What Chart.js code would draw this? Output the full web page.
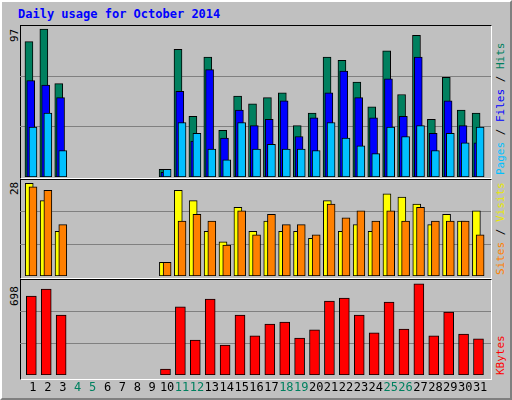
<!DOCTYPE html>
<html><head><meta charset="utf-8">
<script src="https://cdn.jsdelivr.net/npm/chart.js@4"></script>
<style>
body{margin:0;background:#fff}
#wrap{position:absolute;left:0;top:0;width:508px;height:396px;background:#C0C0C0;border-top:2px solid #fff;border-left:2px solid #fff;border-right:2px solid #808080;border-bottom:2px solid #808080;font-family:"DejaVu Sans Mono",monospace}
.pan{position:absolute;left:18px;width:470px;border-top:1px solid #000;border-left:1px solid #000;border-right:1px solid #fff;border-bottom:1px solid #fff}
canvas{position:absolute}
.t{position:absolute;font-size:11px;white-space:nowrap}
.r{transform:rotate(-90deg);transform-origin:left top}
</style></head><body>
<div id="wrap">
<div class="t" style="left:16px;top:5px;color:#0000FF;font-weight:bold;font-size:12px">Daily usage for October 2014</div>
<div class="pan" style="top:23px;height:152px"></div>
<div class="pan" style="top:177px;height:98px"></div>
<div class="pan" style="top:277px;height:99px"></div>
<div class="t r" style="left:6px;top:40px;color:#000">97</div>
<div class="t r" style="left:6px;top:193px;color:#000">28</div>
<div class="t r" style="left:6px;top:304px;color:#000">698</div>
<div class="t r" style="left:492px;top:173px"><span style="color:#00C0FF">Pages</span> / <span style="color:#0000FF">Files</span> / <span style="color:#00805F">Hits</span></div>
<div class="t r" style="left:492px;top:273px"><span style="color:#FF8000">Sites</span> / <span style="color:#E8E800">Visits</span></div>
<div class="t r" style="left:492px;top:373px;color:#FF0000">KBytes</div>
</div>
<canvas id="c1" width="471" height="151" style="left:20px;top:26px"></canvas>
<canvas id="c2" width="471" height="96" style="left:20px;top:180px"></canvas>
<canvas id="c3" width="471" height="118" style="left:20px;top:280px"></canvas>
<script>
const days=[1,2,3,4,5,6,7,8,9,10,11,12,13,14,15,16,17,18,19,20,21,22,23,24,25,26,27,28,29,30,31];
const weekend=[4,5,11,12,18,19,25,26];
const hits=[87,95,60,0,0,0,0,0,0,5,82,39,77,30,52,47,51,54,33,41,77,75,61,45,81,53,91,37,64,43,41];
const files=[62,59,51,0,0,0,0,0,0,3,55,23,69,25,43,33,37,49,26,38,54,68,51,38,63,39,77,28,49,33,22];
const pages=[32,41,17,0,0,0,0,0,0,5,35,28,18,11,35,18,21,18,18,17,35,25,20,15,32,26,33,17,28,22,32];
const visits=[27,22,13,0,0,0,0,0,0,4,25,22,13,10,20,13,16,13,13,11,22,13,15,13,24,23,21,15,18,16,19];
const sites=[26,25,15,0,0,0,0,0,0,4,16,18,16,9,19,12,18,15,15,12,21,17,19,16,19,16,20,16,16,16,12];
const kbytes=[580,632,441,0,0,0,0,0,0,44,500,257,558,220,441,287,375,389,272,331,544,566,441,309,536,338,669,287,463,301,265];
const maxHits=97, maxVisits=28, maxKB=698;

Chart.defaults.animation=false;
function ds(vals,off,color,w){return {data:days.map((d,i)=>({x:d+off,y:vals[i]})).filter(p=>p.y>0),backgroundColor:color,borderColor:'#000',borderWidth:1,borderSkipped:false,barThickness:w,grouped:false};}
function opts(max,padBottom){return {responsive:false,devicePixelRatio:1,layout:{padding:{bottom:padBottom}},
 plugins:{legend:{display:false},tooltip:{enabled:false}},
 scales:{x:{type:'linear',offset:false,min:0.13,max:31.73,display:false},
  y:{min:0,max:max,display:true,border:{display:false},ticks:{display:false},grid:{color:'#808080',lineWidth:1,drawTicks:false},
   afterBuildTicks:s=>{s.ticks=[{value:max/3},{value:2*max/3}];}}}};}
new Chart(document.getElementById('c1'),{type:'bar',data:{datasets:[ds(pages,0,'#00C0FF',8),ds(files,-0.15,'#0000FF',8),ds(hits,-0.27,'#00805F',8)]},options:opts(maxHits,0)});
new Chart(document.getElementById('c2'),{type:'bar',data:{datasets:[ds(sites,0,'#FF8000',8),ds(visits,-0.25,'#FFFF00',8)]},options:opts(maxVisits,0)});
const labelPlugin={id:'xl',afterDraw(c){const x=c.scales.x,ctx=c.ctx;ctx.save();ctx.font='12px "DejaVu Sans Mono", monospace';ctx.textAlign='center';ctx.textBaseline='middle';
 days.forEach(d=>{ctx.fillStyle=weekend.includes(d)?'#00805F':'#000';ctx.fillText(String(d),x.getPixelForValue(d),c.chartArea.bottom+13);});ctx.restore();}};
new Chart(document.getElementById('c3'),{type:'bar',data:{datasets:[ds(kbytes,-0.11,'#FF0000',10)]},options:opts(maxKB,23),plugins:[labelPlugin]});
</script></body></html>
